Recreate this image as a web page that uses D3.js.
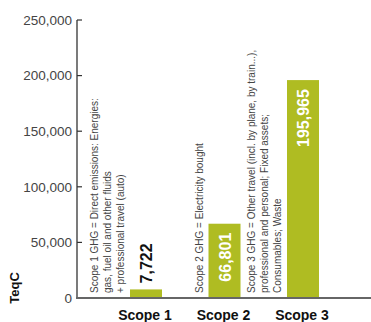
<!DOCTYPE html>
<html>
<head>
<meta charset="utf-8">
<script src="https://cdn.jsdelivr.net/npm/d3@7/dist/d3.min.js"></script>
<style>
    body { margin: 0; background: #fff; }
    svg text { font-family: "Liberation Sans Narrow", "Arial Narrow", "Liberation Sans", sans-serif; }
</style>
</head>
<body>
<svg id="chart" width="371" height="322"></svg>
<script>
// 数据
let scopes = ['Scope 1', 'Scope 2', 'Scope 3'];
let teqc = [7722, 66801, 195965];
let valueLabels = ['7,722', '66,801', '195,965'];
let yTicks = [0, 50000, 100000, 150000, 200000, 250000];
let notes = [
    ['Scope 1 GHG = Direct emissions: Energies:', 'gas, fuel oil and other fluids', '+ professional travel (auto)'],
    ['Scope 2 GHG = Electricity bought'],
    ['Scope 3 GHG = Other travel (incl. by plane, by train...),', 'professional and personal; Fixed assets;', 'Consumables; Waste']
];

let svg = d3.select('#chart');
let barColor = '#afbc22';
let barWidth = 32;

// 比例尺
let y = d3.scaleLinear()
    .domain([0, 250000])
    .range([298, 20]);
let x = d3.scalePoint()
    .domain(scopes)
    .range([146, 303]);

// y 轴
let axisX = 77;
svg.append('line')
    .attr('x1', axisX).attr('x2', axisX)
    .attr('y1', y(250000)).attr('y2', y(0))
    .attr('stroke', '#333').attr('stroke-width', 1.3);
svg.selectAll('.tick')
    .data(yTicks)
    .enter()
    .append('line')
    .attr('x1', axisX).attr('x2', axisX + 5)
    .attr('y1', d => y(d)).attr('y2', d => y(d))
    .attr('stroke', '#333').attr('stroke-width', 1.2);
svg.selectAll('.tick-label')
    .data(yTicks)
    .enter()
    .append('text')
    .attr('x', axisX - 5)
    .attr('y', d => y(d))
    .attr('dy', '0.35em')
    .style('text-anchor', 'end')
    .style('font-size', '13.5px')
    .attr('fill', '#444')
    .text(d => d3.format(',')(d));

// 单位
svg.append('text')
    .attr('transform', 'translate(19,288) rotate(-90)')
    .style('text-anchor', 'middle')
    .style('font-size', '13px')
    .style('font-weight', 'bold')
    .attr('fill', '#111')
    .text('TeqC');

// 柱子
let data = scopes.map((s, i) => ({scope: s, value: teqc[i], label: valueLabels[i], note: notes[i]}));

svg.selectAll('.bar')
    .data(data)
    .enter()
    .append('rect')
    .attr('x', d => x(d.scope) - barWidth / 2)
    .attr('y', d => y(d.value))
    .attr('width', barWidth)
    .attr('height', d => y(0) - y(d.value))
    .attr('fill', barColor);

// 数值标签: 矮柱子写在上面, 高柱子写在里面
svg.selectAll('.value')
    .data(data)
    .enter()
    .append('text')
    .attr('transform', function (d) {
        let top = y(d.value);
        let inside = d.value > 30000;
        let ty = inside ? top + 9 : top - 6;
        return 'translate(' + (x(d.scope) + 6) + ',' + ty + ') rotate(-90)';
    })
    .style('text-anchor', d => d.value > 30000 ? 'end' : 'start')
    .style('font-size', '16px')
    .style('font-weight', 'bold')
    .attr('fill', d => d.value > 30000 ? '#fff' : '#111')
    .text(d => d.label);

// 说明文字
data.forEach(function (d) {
    let n = d.note.length;
    d.note.forEach(function (line, j) {
        let bx = x(d.scope) - barWidth / 2 - 6 - (n - 1 - j) * 12.8;
        svg.append('text')
            .attr('transform', 'translate(' + bx + ',293) rotate(-90)')
            .style('font-size', '10px')
            .attr('fill', '#444')
            .text(line);
    });
});

// 底线
svg.append('line')
    .attr('x1', axisX - 1).attr('x2', 371)
    .attr('y1', y(0)).attr('y2', y(0))
    .attr('stroke', '#666').attr('stroke-width', 1.8);

// 类别标签
svg.selectAll('.scope-label')
    .data(scopes)
    .enter()
    .append('text')
    .attr('x', d => x(d) - 1)
    .attr('y', 320)
    .style('text-anchor', 'middle')
    .style('font-size', '14px')
    .style('font-weight', 'bold')
    .attr('fill', '#111')
    .text(d => d);
</script>
</body>
</html>
